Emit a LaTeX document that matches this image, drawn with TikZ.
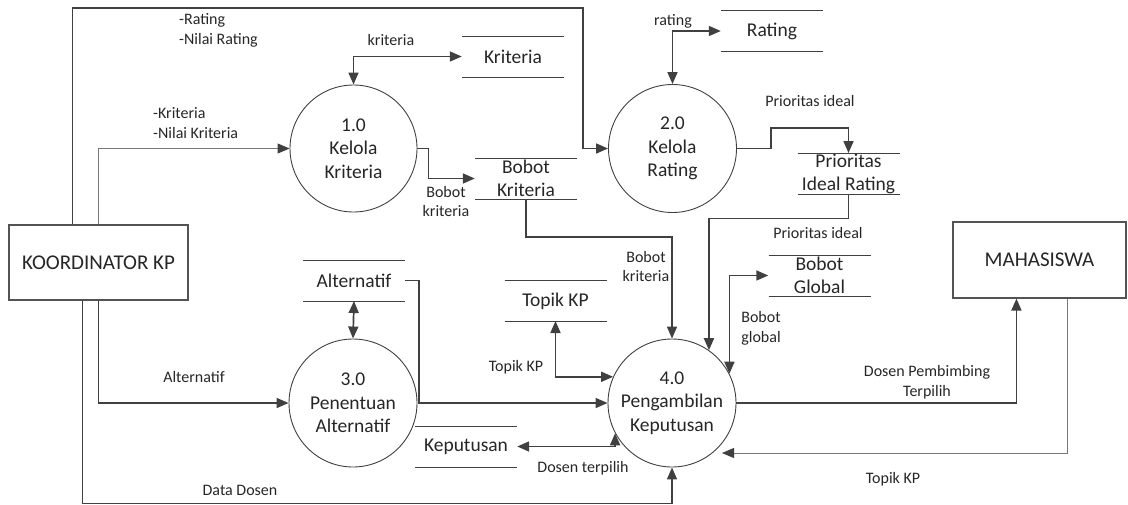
\documentclass[tikz,border=0pt]{standalone}
\usepackage{fontspec}
\setmainfont{Carlito}
\usetikzlibrary{arrows.meta,calc}
\definecolor{ink}{HTML}{404040}
\definecolor{txt}{HTML}{262626}
\begin{document}
\begin{tikzpicture}[x=1pt,y=-1pt,
  >={Triangle[length=12pt,width=10pt]},
  proc/.style={circle,draw=ink,line width=0.9pt,minimum size=128pt,inner sep=0pt,
    align=center,text=txt,font=\fontsize{19.5}{23.5}\selectfont},
  entity/.style={rectangle,draw=ink!90,line width=1.1pt,inner sep=0pt,text=txt,
    font=\fontsize{21}{25}\selectfont},
  storeline/.style={draw=ink,line width=1pt},
  store/.style={minimum width=102pt,inner sep=0pt,align=center,text=txt,
    font=\fontsize{19.5}{23}\selectfont,
    append after command={
      ([shift={(-51pt,20.5pt)}]\tikzlastnode.center) edge[storeline] ([shift={(51pt,20.5pt)}]\tikzlastnode.center)
      ([shift={(-51pt,-20.5pt)}]\tikzlastnode.center) edge[storeline] ([shift={(51pt,-20.5pt)}]\tikzlastnode.center)}},
  flow/.style={draw=ink,line width=1.7pt,->},
  biflow/.style={draw=ink,line width=1.7pt,<->},
  thinflow/.style={draw=ink!70,line width=1pt,-{Triangle[length=12pt,width=10pt,color=ink]}},
  lbl/.style={text=txt,font=\fontsize{16}{19.5}\selectfont,inner sep=0pt,align=center}]
\useasboundingbox (0,0) rectangle (1128,504);

% external entities
\node[entity,minimum width=179pt,minimum height=75pt] (kp) at (98.5,262.5) {KOORDINATOR KP};
\node[entity,minimum width=173pt,minimum height=76pt] (mhs) at (1039.5,260) {MAHASISWA};

% processes
\node[proc,minimum size=127pt] (c1) at (353.5,148.5) {1.0\\Kelola\\Kriteria};
\node[proc] (c2) at (672.5,148.5) {2.0\\Kelola\\Rating};
\node[proc] (c3) at (353,403) {3.0\\Penentuan\\Alternatif};
\node[proc] (c4) at (672,403) {4.0\\Pengambilan\\Keputusan};

% data stores
\node[store] (kr)  at (513,56.5)    {Kriteria};
\node[store] (rt)  at (772,31)      {Rating};
\node[store] (bk)  at (526,178.5)   {Bobot\\Kriteria};
\node[store] (pir) at (848.5,173.5) {Prioritas\\Ideal Rating};
\node[store] (alt) at (354,280.5)   {Alternatif};
\node[store] (tk)  at (555.5,301)   {Topik KP};
\node[store] (bg)  at (819.5,275.5) {Bobot\\Global};
\node[store] (kep) at (466,446.5)   {Keputusan};

% bend points
\coordinate (topbend) at (583,8);

% flows
\draw[flow] ([xshift=64pt]kp.north west) |- (topbend) |- (c2.west);
\node[lbl,anchor=west,align=left] at (179,30.5) {-Rating\\-Nilai Rating};

\draw[thinflow] ([xshift=90pt]kp.north west) |- (c1.west);
\node[lbl,anchor=west,align=left] at (153,123) {-Kriteria\\-Nilai Kriteria};

\draw[biflow] (kr.west) -| (c1.north);
\node[lbl] at (391,40) {kriteria};

\draw[flow] (c1.east) -- ++(11,0) |- (bk.west);
\node[lbl] at (446,201.5) {Bobot\\kriteria};

\draw[biflow] (rt.west) -| (c2.north);
\node[lbl] at (673,21) {rating};

\draw[flow] (c2.east) -- ++(34,0) |- ($(pir.center)+(0,-45.5)$) -- ($(pir.center)+(0,-20.5)$);
\node[lbl] at (810,101) {Prioritas ideal};

\draw[flow] ($(pir.center)+(0,20.5)$) -- ++(0,24.5) -| (c4.55.6);
\node[lbl] at (818,233) {Prioritas ideal};

\draw[flow] ($(bk.center)+(0,20.5)$) -- ++(0,38) -| (c4.north);
\node[lbl] at (646,266.5) {Bobot\\kriteria};

\draw[biflow] (c4.27.3) |- (bg.west);
\node[lbl] at (761,328.5) {Bobot\\global};

\draw[biflow] ($(alt.center)+(0,20.5)$) -- (c3.north);

\draw[flow] ([xshift=90pt]kp.south west) |- (c3.west);
\node[lbl] at (194,377) {Alternatif};

\draw[flow] (alt.east) -- ++(14,0) |- (c4.west);

\draw[biflow] ($(tk.center)+(0,20)$) |- (c4.156.6);
\node[lbl] at (516,367) {Topik KP};

\draw[biflow] (kep.east) -| (c4.208.2);
\node[lbl] at (583,468) {Dosen terpilih};

\draw[flow] ([xshift=74pt]kp.south west) |- ($(c4.south)+(0,36)$) -- (c4.south);
\node[lbl] at (240,490) {Data Dosen};

\draw[flow] (c4.east) -| ([xshift=64pt]mhs.south west);
\node[lbl] at (927,382) {Dosen Pembimbing\\Terpilih};

\draw[thinflow] ([xshift=115pt]mhs.south west) |- ($(c4.center)+(50,50)$);
\node[lbl] at (893,479) {Topik KP};
\end{tikzpicture}
\end{document}
